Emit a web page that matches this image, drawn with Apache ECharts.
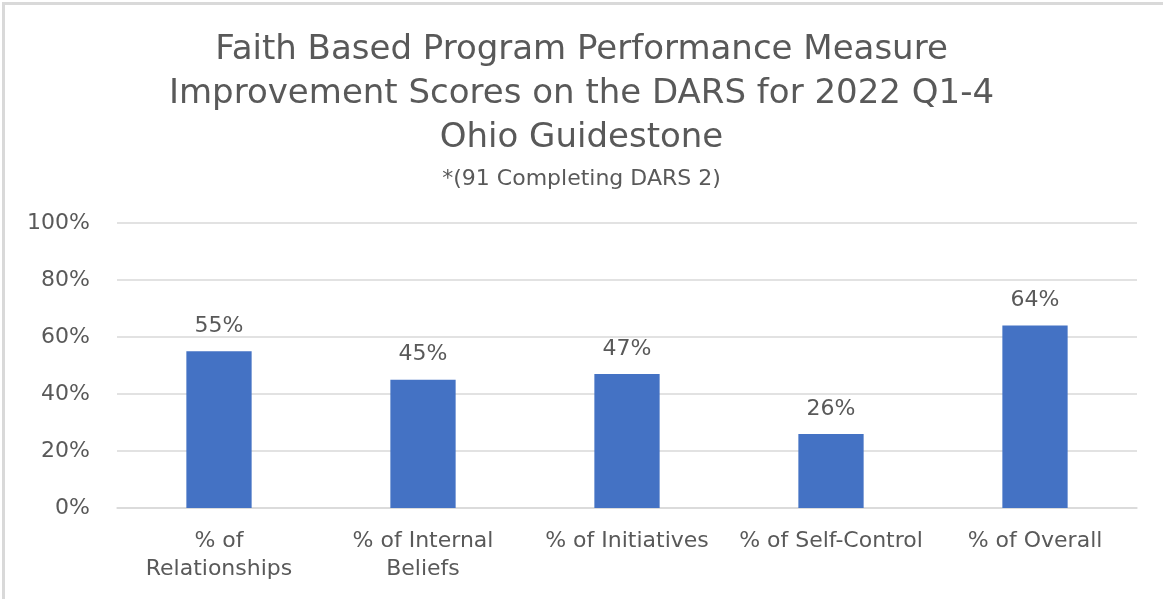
<!DOCTYPE html>
<html lang="en" style="height: 100%">
<head>
  <meta charset="utf-8">
</head>
<body style="height: 100%; margin: 0; background: #fff">
  <div style="position:absolute;left:2px;top:2px;right:0;bottom:0;border-left:3px solid #d9d9d9;border-top:3px solid #d9d9d9;"></div>
  <div id="container" style="position:absolute;left:0;top:0;width:1163px;height:599px"></div>

  <script type="text/javascript" src="https://cdn.jsdelivr.net/npm/echarts@6/dist/echarts.min.js"></script>
  <script type="text/javascript">
    var categories = ['% of\nRelationships', '% of Internal\nBeliefs', '% of Initiatives', '% of Self-Control', '% of Overall'];
    var scores = [55, 45, 47, 26, 64];
    var yTicks = [0, 20, 40, 60, 80, 100];

    var font = 'DejaVu Sans';
    var grey = '#595959';

    var myChart = echarts.init(document.getElementById('container'), null, { renderer: 'canvas' });

    var option = {
      animation: false,
      title: [
        {
          text: 'Faith Based Program Performance Measure\nImprovement Scores on the DARS for 2022 Q1-4\nOhio Guidestone',
          left: 'center',
          top: 23,
          textStyle: { fontFamily: font, fontSize: 34, fontWeight: 'normal', color: grey, lineHeight: 44 }
        },
        {
          text: '*(91 Completing DARS 2)',
          left: 'center',
          top: 163,
          textStyle: { fontFamily: font, fontSize: 22, fontWeight: 'normal', color: grey }
        }
      ],
      grid: { left: 117, right: 26, top: 223, bottom: 91 },
      xAxis: {
        type: 'category',
        data: categories,
        axisTick: { show: false },
        axisLine: { lineStyle: { color: '#d9d9d9', width: 1.5 } },
        axisLabel: { fontFamily: font, fontSize: 22, color: grey, margin: 19, lineHeight: 28, interval: 0 }
      },
      yAxis: {
        type: 'value',
        min: yTicks[0],
        max: yTicks[yTicks.length - 1],
        interval: 20,
        axisLine: { show: false },
        axisTick: { show: false },
        splitLine: { lineStyle: { color: '#d9d9d9', width: 1.5 } },
        axisLabel: { fontFamily: font, fontSize: 22, color: grey, margin: 27, formatter: '{value}%' }
      },
      series: [{
        type: 'bar',
        data: scores,
        barWidth: '32%',
        itemStyle: { color: '#4472c4' },
        label: {
          show: true,
          position: 'top',
          distance: 14,
          formatter: '{c}%',
          fontFamily: font,
          fontSize: 22,
          color: grey
        }
      }]
    };

    myChart.setOption(option);
    window.addEventListener('resize', myChart.resize);
  </script>
</body>
</html>
